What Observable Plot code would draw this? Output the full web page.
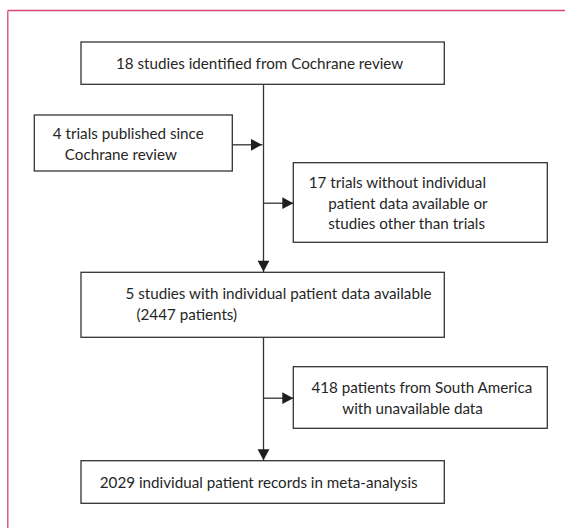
<!DOCTYPE html>
<html>
<head>
<meta charset="utf-8">
<script src="https://cdn.jsdelivr.net/npm/d3@7"></script>
<script src="https://cdn.jsdelivr.net/npm/@observablehq/plot@0.6"></script>
<style>
  html, body { margin: 0; padding: 0; background: #fff; }
  svg { display: block; }
</style>
</head>
<body>
<div id="chart"></div>
<script>
// ---- Flowchart content ----
const boxIds = ["cochrane", "newTrials", "excluded", "ipdAvailable", "southAmerica", "metaAnalysis"];
const boxLines = [
  ["18 studies identified from Cochrane review"],
  ["4 trials published since", "Cochrane review"],
  ["17 trials without individual", "patient data available or", "studies other than trials"],
  ["5 studies with individual patient data available", "(2447 patients)"],
  ["418 patients from South America", "with unavailable data"],
  ["2029 individual patient records in meta-analysis"]
];

// ---- Layout (diagram geometry, pixel units) ----
const boxX1 = [81, 34.3, 293.3, 81, 293.3, 81];
const boxX2 = [444.3, 232.3, 547.3, 444.3, 547.3, 444.3];
const boxY1 = [42, 115, 162.7, 272.3, 366.7, 460.7];
const boxY2 = [84.3, 171, 242.3, 337.3, 428.3, 503.3];
// first-line start, continuation-line start, first-line centre y, line step
const textX0 = [115.5, 52.3, 308.3, 125, 311, 99.3];
const textX1 = [115.5, 64.3, 327.7, 136, 341.7, 99.3];
const textY0 = [64, 133.3, 182.3, 294, 387.3, 482.7];
const lineStep = 20.9;
const spineX = 263;
const joinY = 144.3;
const branchY = [202.7, 397.7];

const boxes = boxIds.map((id, i) => ({id, x1: boxX1[i], x2: boxX2[i], y1: boxY1[i], y2: boxY2[i]}));
const texts = boxLines.flatMap((lines, i) => lines.map((t, j) => ({
  text: t, x: j === 0 ? textX0[i] : textX1[i], y: textY0[i] + j * lineStep
})));
const byId = Object.fromEntries(boxes.map(b => [b.id, b]));

const segments = [
  {x1: spineX, y1: byId.cochrane.y2, x2: spineX, y2: byId.ipdAvailable.y1},
  {x1: spineX, y1: byId.ipdAvailable.y2, x2: spineX, y2: byId.metaAnalysis.y1},
  {x1: byId.newTrials.x2, y1: joinY, x2: spineX - 1, y2: joinY},
  {x1: spineX, y1: branchY[0], x2: byId.excluded.x1, y2: branchY[0]},
  {x1: spineX, y1: branchY[1], x2: byId.southAmerica.x1, y2: branchY[1]}
];
const headsDown = [
  {x: spineX, y: byId.ipdAvailable.y1 - 1},
  {x: spineX, y: byId.metaAnalysis.y1 - 1}
];
const headsRight = [
  {x: spineX - 1.5, y: joinY},
  {x: byId.excluded.x1 - 0.5, y: branchY[0]},
  {x: byId.southAmerica.x1 - 0.5, y: branchY[1]}
];

// filled triangular heads with the tip at the origin
const HL = 11, HW = 11.8;
const arrowDown = {draw(ctx) { ctx.moveTo(0, 0); ctx.lineTo(-HW / 2, -HL); ctx.lineTo(HW / 2, -HL); ctx.closePath(); }};
const arrowRight = {draw(ctx) { ctx.moveTo(0, 0); ctx.lineTo(-HL, -HW / 2); ctx.lineTo(-HL, HW / 2); ctx.closePath(); }};

const W = 565, H = 528;
const ink = "#333333";
const frame = [
  {x1: 7.3, y1: 10, x2: W, y2: 10},
  {x1: 7.3, y1: 10, x2: 7.3, y2: H}
];

const chart = Plot.plot({
  width: W,
  height: H,
  margin: 0,
  x: {domain: [0, W], range: [0, W], axis: null},
  y: {domain: [0, H], range: [0, H], axis: null},
  style: {fontFamily: "Lato, sans-serif", background: "#fff"},
  marks: [
    Plot.link(frame, {x1: "x1", y1: "y1", x2: "x2", y2: "y2", stroke: "#d6467b", strokeWidth: 1.3}),
    Plot.link(segments, {x1: "x1", y1: "y1", x2: "x2", y2: "y2", stroke: ink, strokeWidth: 1.3}),
    Plot.rect(boxes, {x1: "x1", x2: "x2", y1: "y1", y2: "y2", fill: "#fff", stroke: ink, strokeWidth: 1.3}),
    Plot.dot(headsDown, {x: "x", y: "y", symbol: arrowDown, fill: "#1e1e1e", stroke: "none"}),
    Plot.dot(headsRight, {x: "x", y: "y", symbol: arrowRight, fill: "#1e1e1e", stroke: "none"}),
    Plot.text(texts, {x: "x", y: "y", text: "text", textAnchor: "start", fontSize: 15.2, fill: "#262626"})
  ]
});
document.getElementById("chart").appendChild(chart);
</script>
</body>
</html>
